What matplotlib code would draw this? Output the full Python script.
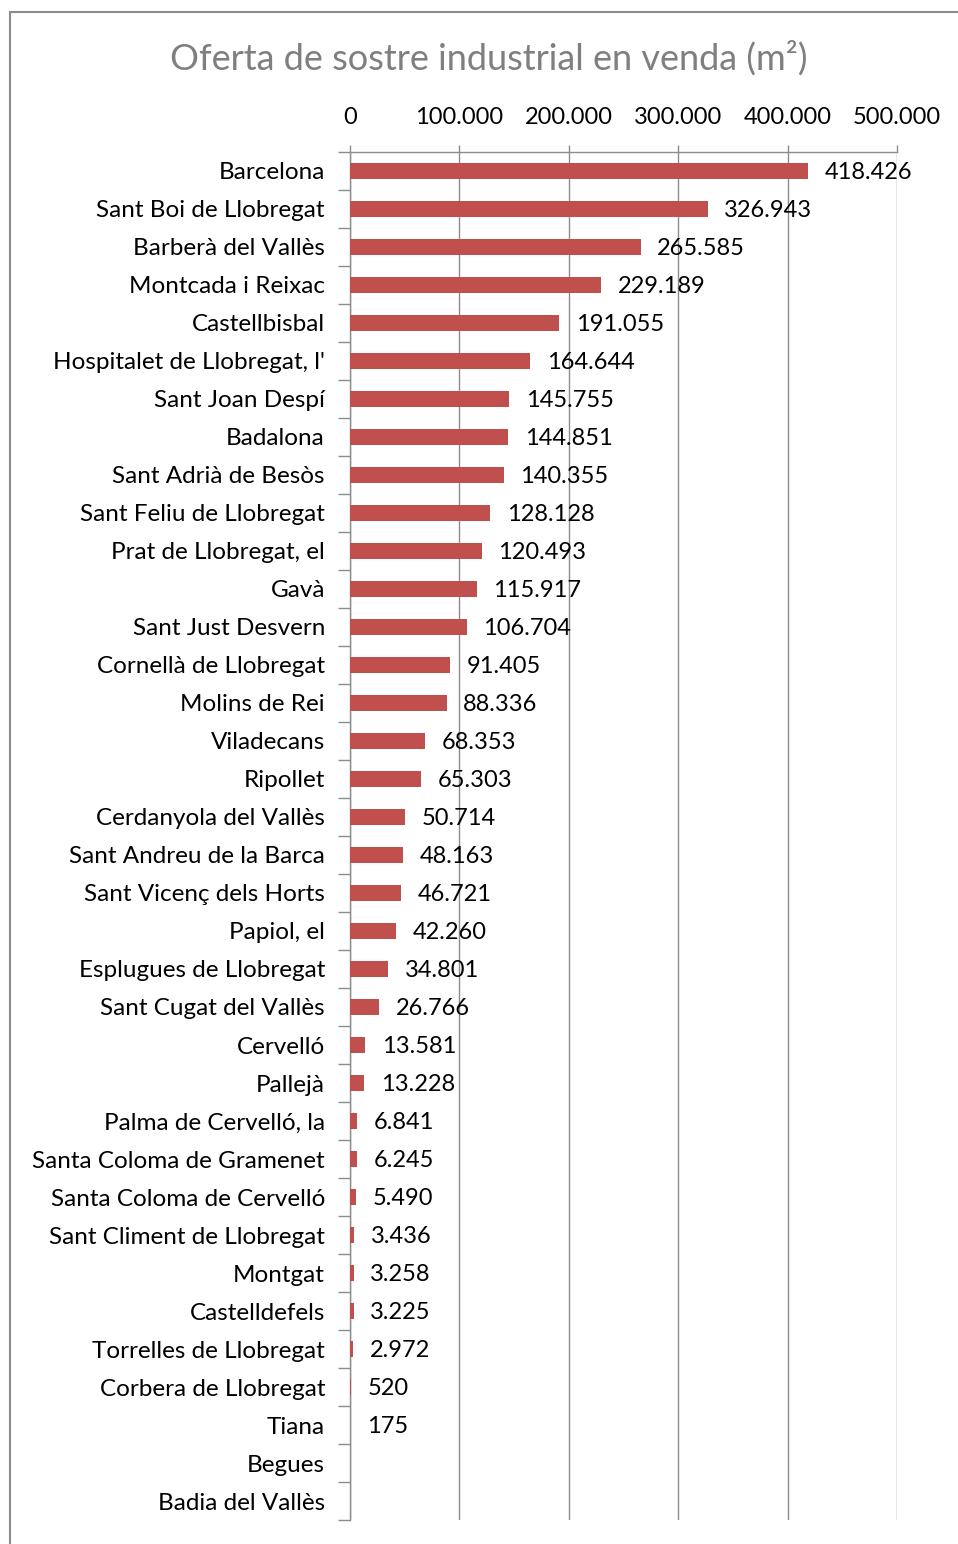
import matplotlib.pyplot as plt
import numpy as np

municipis = ['Barcelona', 'Sant Boi de Llobregat', 'Barberà del Vallès', 'Montcada i Reixac',
             'Castellbisbal', "Hospitalet de Llobregat, l'", 'Sant Joan Despí', 'Badalona',
             'Sant Adrià de Besòs', 'Sant Feliu de Llobregat', 'Prat de Llobregat, el', 'Gavà',
             'Sant Just Desvern', 'Cornellà de Llobregat', 'Molins de Rei', 'Viladecans',
             'Ripollet', 'Cerdanyola del Vallès', 'Sant Andreu de la Barca', 'Sant Vicenç dels Horts',
             'Papiol, el', 'Esplugues de Llobregat', 'Sant Cugat del Vallès', 'Cervelló',
             'Pallejà', 'Palma de Cervelló, la', 'Santa Coloma de Gramenet', 'Santa Coloma de Cervelló',
             'Sant Climent de Llobregat', 'Montgat', 'Castelldefels', 'Torrelles de Llobregat',
             'Corbera de Llobregat', 'Tiana', 'Begues', 'Badia del Vallès']
sostre = [418426, 326943, 265585, 229189, 191055, 164644, 145755, 144851,
          140355, 128128, 120493, 115917, 106704, 91405, 88336, 68353,
          65303, 50714, 48163, 46721, 42260, 34801, 26766, 13581,
          13228, 6841, 6245, 5490, 3436, 3258, 3225, 2972,
          520, 175, 0, 0]
eix_x = [0, 100000, 200000, 300000, 400000, 500000]

plt.rcParams['font.family'] = ['Lato', 'DejaVu Sans']

fig = plt.figure(figsize=(9.58, 15.44), dpi=100)
ax = fig.add_axes([350 / 958, 1 - 1520 / 1544, 547 / 958, 1368 / 1544])

# marc del gràfic (retallat a dreta i a baix)
fig.add_artist(plt.Rectangle((10 / 958, -0.05), 1.2, 1 - 12 / 1544 + 0.05,
                             transform=fig.transFigure, fill=False,
                             edgecolor='#8c8c8c', linewidth=1.5))

y = np.arange(len(municipis))
ax.barh(y, sostre, height=0.42, color='#C0504D', zorder=3)

for yi, v in zip(y, sostre):
    if v > 0:
        txt = f'{v:,}'.replace(',', '.')
        ax.annotate(txt, (v, yi), xytext=(12, -1), textcoords='offset points',
                    va='center', ha='left', fontsize=17, color='black', zorder=4)

ax.set_xlim(0, 500000)
ax.set_ylim(len(municipis) - 0.5, -0.5)
ax.set_xticks(eix_x)
ax.set_xticklabels(['0' if v == 0 else f'{v:,}'.replace(',', '.') for v in eix_x], fontsize=17)
ax.xaxis.tick_top()
ax.tick_params(axis='x', length=5, width=1, color='#8c8c8c', pad=12)
ax.grid(axis='x', color='#8c8c8c', linewidth=1, zorder=0)

ax.set_yticks(y)
ax.set_yticklabels(municipis, fontsize=17.5)
ax.set_yticks(np.arange(len(municipis) + 1) - 0.5, minor=True)
ax.tick_params(axis='y', which='major', length=0, pad=18)
ax.tick_params(axis='y', which='minor', length=9, width=1, color='#8c8c8c')

for s in ['right', 'bottom']:
    ax.spines[s].set_visible(False)
for s in ['top', 'left']:
    ax.spines[s].set_color('#8c8c8c')
    ax.spines[s].set_linewidth(1)

fig.text(489 / 958, 1 - 58 / 1544, 'Oferta de sostre industrial en venda (m²)',
         ha='center', va='center', fontsize=26, color='#7f7f7f')

fig.savefig('out.png', dpi=100)
